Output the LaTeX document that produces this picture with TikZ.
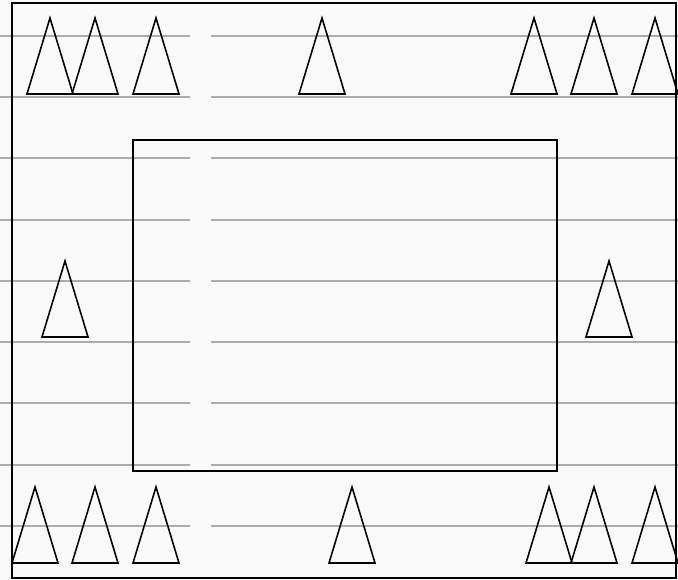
\documentclass[tikz,border=0pt]{standalone}
\usepackage{tikz}
\begin{document}
\begin{tikzpicture}[x=0.02cm,y=-0.02cm]
\useasboundingbox (0,0) rectangle (678,580);
\fill[color=gray!4] (0,0) rectangle (678,580);
  \foreach \y in {36,97,158,220,281,342,403,465,526} {
            \draw[color=gray!65, line width=1.1pt] (0,\y) -- (190,\y);
            \draw[color=gray!65, line width=1.1pt] (211,\y) -- (678,\y);
            }
\draw[line width=0.9pt] (12,3) rectangle (676,578);
\draw[line width=0.9pt] (133,140) rectangle (557,471);
\foreach \x/\y in {50/18, 95/18, 156/18, 322/18, 534/18, 594/18, 655/18,
                   65/261, 609/261,
                   35/487, 95/487, 156/487, 352/487, 549/487, 594/487, 655/487}
\draw[line width=0.9pt, line join=miter] (\x-23,\y+76) -- (\x,\y) -- (\x+23,\y+76) -- cycle;
\end{tikzpicture}
\end{document}
